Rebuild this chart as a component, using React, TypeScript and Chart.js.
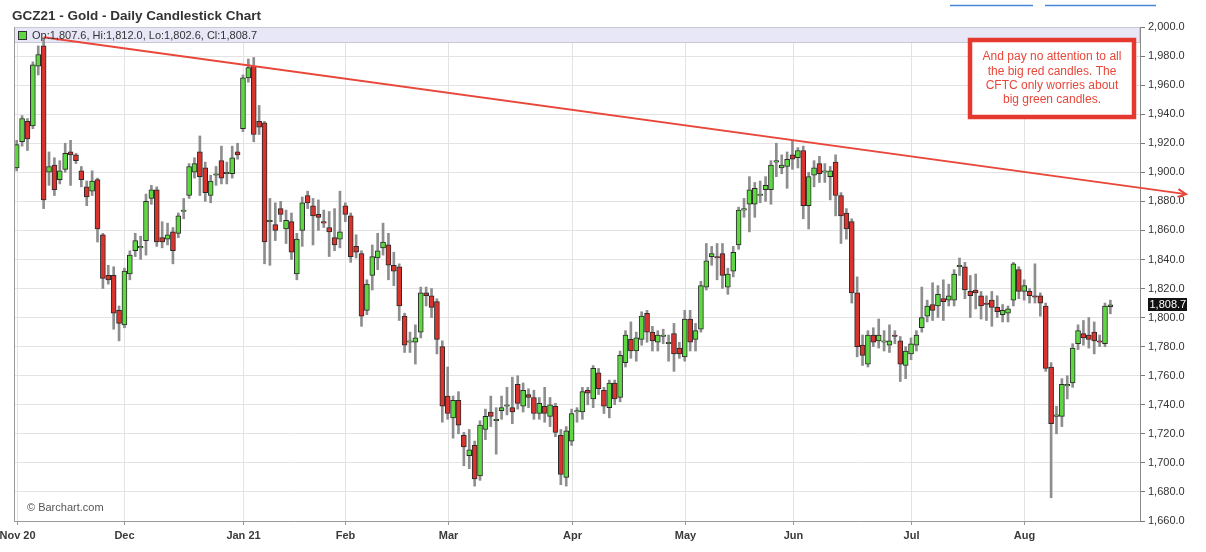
import React, { useEffect, useRef } from 'react';
import { Chart, registerables } from 'chart.js';

Chart.register(...registerables);

const FONT = '"Liberation Sans", Arial, Helvetica, sans-serif';

const chartTitle = 'GCZ21 - Gold - Daily Candlestick Chart';
const copyright = '\u00A9 Barchart.com';
const noteLines = [
  'And pay no attention to all',
  'the big red candles. The',
  'CFTC only worries about',
  'big green candles.',
];

// x axis month labels and the session index where each month starts
const monthLabels = ['Nov 20', 'Dec', 'Jan 21', 'Feb', 'Mar', 'Apr', 'May', 'Jun', 'Jul', 'Aug'];
const monthStarts = [0, 20, 42, 61, 80, 103, 124, 144, 166, 187];

// y axis
const yMin = 1660;
const yMax = 2000;
const yStep = 20;

// daily OHLC (trading sessions, Nov 2020 .. Aug 2021)
const opens = [
  1903, 1921, 1935, 1932, 1973, 1987, 1900, 1905, 1895, 1902,
  1914, 1912, 1901, 1890, 1887, 1895, 1857, 1829, 1829, 1805,
  1795, 1830, 1846, 1848, 1853, 1882, 1888, 1855, 1854, 1859,
  1858, 1873, 1884, 1900, 1914, 1903, 1884, 1898, 1908, 1899,
  1899, 1914, 1930, 1965, 1973, 1935, 1934, 1866, 1864, 1875,
  1861, 1866, 1830, 1860, 1884, 1877, 1871, 1866, 1862, 1855,
  1854, 1877, 1870, 1849, 1844, 1805, 1829, 1841, 1848, 1850,
  1836, 1835, 1801, 1783, 1783, 1790, 1817, 1815, 1811, 1780,
  1746, 1731, 1743, 1719, 1705, 1712, 1691, 1723, 1735, 1729,
  1736, 1739, 1738, 1754, 1739, 1747, 1745, 1734, 1739, 1732,
  1739, 1719, 1690, 1715, 1735, 1735, 1750, 1744, 1762, 1750,
  1738, 1755, 1745, 1769, 1785, 1777, 1785, 1803, 1790, 1783,
  1787, 1782, 1789, 1779, 1773, 1799, 1785, 1792, 1821, 1842,
  1842, 1844, 1821, 1832, 1850, 1874, 1878, 1878, 1884, 1888,
  1888, 1907, 1903, 1904, 1912, 1910, 1915, 1877, 1898, 1906,
  1900, 1897, 1907, 1884, 1872, 1866, 1817, 1781, 1768, 1788,
  1784, 1783, 1781, 1788, 1784, 1767, 1775, 1781, 1793, 1801,
  1809, 1808, 1813, 1812, 1812, 1835, 1835, 1818, 1819, 1815,
  1810, 1812, 1807, 1802, 1803, 1812, 1833, 1818, 1818, 1815,
  1815, 1808, 1766, 1732, 1732, 1753, 1755, 1782, 1789, 1788,
  1790, 1784, 1782, 1807.6,
];
const highs = [
  1922, 1939, 1937, 1976, 1987, 1992, 1914, 1910, 1908, 1920,
  1922, 1913, 1904, 1894, 1901, 1896, 1858, 1836, 1835, 1808,
  1834, 1846, 1858, 1856, 1885, 1891, 1890, 1866, 1865, 1862,
  1872, 1882, 1906, 1910, 1925, 1907, 1898, 1904, 1918, 1907,
  1918, 1920, 1967, 1978, 1979, 1946, 1935, 1882, 1879, 1880,
  1874, 1872, 1858, 1883, 1887, 1882, 1881, 1874, 1873, 1875,
  1887, 1879, 1872, 1857, 1846, 1826, 1850, 1858, 1865, 1858,
  1845, 1837, 1803, 1790, 1795, 1821, 1821, 1820, 1813, 1784,
  1766, 1746, 1749, 1721, 1723, 1715, 1729, 1737, 1746, 1738,
  1746, 1752, 1759, 1760, 1755, 1751, 1750, 1745, 1752, 1745,
  1741, 1723, 1725, 1737, 1738, 1752, 1752, 1767, 1765, 1752,
  1757, 1757, 1777, 1791, 1797, 1790, 1804, 1805, 1794, 1791,
  1792, 1788, 1796, 1783, 1805, 1805, 1796, 1825, 1851, 1849,
  1851, 1851, 1834, 1849, 1876, 1882, 1897, 1893, 1894, 1897,
  1908, 1920, 1912, 1914, 1922, 1917, 1918, 1900, 1908, 1911,
  1906, 1904, 1912, 1886, 1875, 1868, 1828, 1788, 1791, 1793,
  1799, 1791, 1795, 1791, 1787, 1780, 1786, 1791, 1821, 1812,
  1824, 1822, 1826, 1823, 1833, 1841, 1838, 1829, 1830, 1818,
  1815, 1818, 1815, 1809, 1808, 1838, 1835, 1826, 1820, 1837,
  1817, 1810, 1769, 1739, 1758, 1760, 1782, 1795, 1798, 1800,
  1797, 1788, 1810, 1812.0,
];
const lows = [
  1901, 1918, 1915, 1930, 1967, 1875, 1891, 1884, 1892, 1900,
  1891, 1906, 1890, 1877, 1884, 1852, 1820, 1823, 1792, 1784,
  1793, 1826, 1842, 1840, 1843, 1878, 1849, 1848, 1850, 1837,
  1855, 1868, 1882, 1896, 1884, 1880, 1879, 1891, 1892, 1892,
  1896, 1909, 1928, 1962, 1921, 1926, 1837, 1836, 1853, 1866,
  1851, 1840, 1826, 1849, 1875, 1850, 1860, 1862, 1842, 1846,
  1848, 1866, 1838, 1841, 1794, 1802, 1819, 1833, 1843, 1826,
  1822, 1798, 1776, 1776, 1768, 1786, 1808, 1800, 1775, 1728,
  1730, 1717, 1720, 1698, 1696, 1684, 1688, 1716, 1725, 1706,
  1730, 1733, 1727, 1737, 1735, 1738, 1730, 1730, 1728, 1725,
  1718, 1685, 1684, 1712, 1728, 1730, 1740, 1738, 1747, 1734,
  1731, 1740, 1742, 1766, 1772, 1770, 1781, 1783, 1777, 1777,
  1782, 1770, 1763, 1772, 1770, 1777, 1777, 1790, 1819, 1836,
  1826, 1820, 1816, 1828, 1847, 1869, 1859, 1869, 1879, 1880,
  1878, 1897, 1899, 1889, 1902, 1903, 1868, 1861, 1890, 1893,
  1893, 1881, 1870, 1851, 1854, 1810, 1773, 1767, 1766, 1780,
  1779, 1777, 1776, 1782, 1756, 1758, 1771, 1777, 1790, 1797,
  1798, 1800, 1798, 1808, 1808, 1829, 1813, 1800, 1806, 1799,
  1798, 1794, 1800, 1797, 1797, 1808, 1813, 1812, 1810, 1810,
  1801, 1763, 1676, 1720, 1725, 1744, 1752, 1778, 1781, 1779,
  1775, 1780, 1780, 1802.6,
];
const closes = [
  1919, 1937, 1923, 1974, 1981, 1881, 1904, 1888, 1901, 1913,
  1912, 1908, 1895, 1883, 1894, 1861, 1827, 1826, 1803, 1796,
  1832, 1843, 1853, 1849, 1880, 1888, 1852, 1852, 1857, 1846,
  1870, 1874, 1904, 1906, 1897, 1886, 1894, 1899, 1896, 1900,
  1910, 1912, 1965, 1972, 1926, 1931, 1852, 1867, 1860, 1871,
  1867, 1845, 1854, 1879, 1879, 1870, 1869, 1865, 1859, 1850,
  1859, 1871, 1842, 1845, 1801, 1823, 1842, 1846, 1852, 1836,
  1832, 1808, 1781, 1784, 1786, 1817, 1815, 1807, 1785, 1739,
  1734, 1743, 1726, 1711, 1709, 1689, 1726, 1732, 1732, 1730,
  1738, 1740, 1735, 1741, 1750, 1745, 1734, 1741, 1734, 1740,
  1721, 1692, 1722, 1734, 1736, 1749, 1748, 1765, 1751, 1739,
  1755, 1744, 1774, 1788, 1777, 1786, 1801, 1790, 1784, 1788,
  1788, 1783, 1775, 1775, 1799, 1783, 1791, 1822, 1839, 1844,
  1841, 1829, 1830, 1845, 1874, 1875, 1888, 1889, 1885, 1891,
  1905, 1908, 1905, 1909, 1909, 1915, 1877, 1897, 1903, 1899,
  1901, 1901, 1884, 1870, 1861, 1817, 1780, 1774, 1788, 1783,
  1788, 1784, 1784, 1787, 1768, 1777, 1782, 1788, 1800, 1808,
  1805, 1816, 1811, 1815, 1830, 1836, 1819, 1815, 1817, 1808,
  1809, 1807, 1804, 1805, 1806, 1837, 1818, 1822, 1815, 1814,
  1810, 1765, 1727, 1733, 1754, 1754, 1779, 1791, 1786, 1785,
  1784, 1783, 1808, 1808.7,
];

// trend line anchors (session index, price)
const trendStart = { i: 5, v: 1993 };
const trendEnd = { i: 164, v: 1912 };

const padSlots = 5;
const categories = [
  ...opens.map((_, i) => `S${i + 1}`),
  ...Array.from({ length: padSlots }, (_, i) => `pad${i + 1}`),
];

const GREEN = '#5ed742';
const RED = '#d8332d';
const NOTE_RED = '#e8473a';

const fmt = (v: number) =>
  Number(v).toLocaleString('en-US', { minimumFractionDigits: 1, maximumFractionDigits: 1 });

const decorPlugin = {
  id: 'decor',
  beforeDatasetsDraw(chart: any) {
    const { ctx, chartArea: a, scales } = chart;
    const x = scales.x;
    ctx.save();
    ctx.strokeStyle = '#e3e3e3';
    ctx.lineWidth = 1;
    monthStarts.forEach((i) => {
      const px = Math.round(x.getPixelForValue(i)) + 0.5;
      ctx.beginPath();
      ctx.moveTo(px, a.top);
      ctx.lineTo(px, a.bottom);
      ctx.stroke();
    });
    // quote band
    ctx.fillStyle = '#e7e7f8';
    ctx.fillRect(a.left, a.top, a.right - a.left, 15);
    ctx.strokeStyle = '#c9c9d6';
    ctx.strokeRect(a.left + 0.5, a.top + 0.5, a.right - a.left - 1, 15);
    ctx.restore();
  },
  afterDraw(chart: any) {
    const { ctx, chartArea: a, scales } = chart;
    const x = scales.x;
    const y = scales.y;
    ctx.save();

    // left frame
    ctx.strokeStyle = '#9a9a9a';
    ctx.lineWidth = 1;
    ctx.beginPath();
    ctx.moveTo(a.left + 0.5, a.top);
    ctx.lineTo(a.left + 0.5, a.bottom);
    ctx.stroke();

    // x tick marks + labels
    ctx.fillStyle = '#3a3a3a';
    ctx.font = `bold 11px ${FONT}`;
    ctx.textAlign = 'center';
    ctx.textBaseline = 'alphabetic';
    monthStarts.forEach((i, k) => {
      const px = Math.round(x.getPixelForValue(i)) + 0.5;
      ctx.strokeStyle = '#999';
      ctx.beginPath();
      ctx.moveTo(px, a.bottom);
      ctx.lineTo(px, a.bottom + 4);
      ctx.stroke();
      ctx.fillText(monthLabels[k], px, a.bottom + 18);
    });

    // title
    ctx.textAlign = 'left';
    ctx.textBaseline = 'middle';
    ctx.fillStyle = '#333';
    ctx.font = `bold 13.5px ${FONT}`;
    ctx.fillText(chartTitle, 12, 16);

    // top-right links (underlines)
    ctx.strokeStyle = '#4a86d8';
    ctx.lineWidth = 1.5;
    ctx.beginPath();
    ctx.moveTo(950, 5.5);
    ctx.lineTo(1033, 5.5);
    ctx.moveTo(1045, 5.5);
    ctx.lineTo(1156, 5.5);
    ctx.stroke();

    // copyright
    ctx.fillStyle = '#555';
    ctx.font = `11px ${FONT}`;
    ctx.fillText(copyright, a.left + 13, a.bottom - 13);

    // trend line with arrow
    const x1 = x.getPixelForValue(trendStart.i);
    const y1 = y.getPixelForValue(trendStart.v);
    const x2 = x.getPixelForValue(trendEnd.i);
    const y2 = y.getPixelForValue(trendEnd.v);
    const slope = (y2 - y1) / (x2 - x1);
    const xe = a.right + 46;
    const ye = y1 + slope * (xe - x1);
    ctx.strokeStyle = NOTE_RED;
    ctx.lineWidth = 2;
    ctx.beginPath();
    ctx.moveTo(x1, y1);
    ctx.lineTo(xe, ye);
    ctx.stroke();
    const ang = Math.atan2(ye - y1, xe - x1);
    const al = 9;
    ctx.beginPath();
    ctx.moveTo(xe - al * Math.cos(ang - 0.45), ye - al * Math.sin(ang - 0.45));
    ctx.lineTo(xe, ye);
    ctx.lineTo(xe - al * Math.cos(ang + 0.45), ye - al * Math.sin(ang + 0.45));
    ctx.stroke();

    // quote legend
    const n = opens.length - 1;
    ctx.fillStyle = GREEN;
    ctx.fillRect(a.left + 5, a.top + 5, 7, 7);
    ctx.strokeStyle = '#333';
    ctx.lineWidth = 1;
    ctx.strokeRect(a.left + 4.5, a.top + 4.5, 8, 8);
    ctx.fillStyle = '#333';
    ctx.font = `11px ${FONT}`;
    ctx.textBaseline = 'middle';
    ctx.fillText(
      `Op:${fmt(opens[n])}, Hi:${fmt(highs[n])}, Lo:${fmt(lows[n])}, Cl:${fmt(closes[n])}`,
      a.left + 18,
      a.top + 8.5
    );

    // note box
    const bx = a.right - 170;
    const by = a.top + 13;
    const bw = 164;
    const bh = 77;
    ctx.fillStyle = '#fff';
    ctx.fillRect(bx, by, bw, bh);
    ctx.strokeStyle = '#e5392f';
    ctx.lineWidth = 4.5;
    ctx.strokeRect(bx, by, bw, bh);
    ctx.fillStyle = NOTE_RED;
    ctx.font = `12px ${FONT}`;
    ctx.textAlign = 'center';
    noteLines.forEach((t, k) => {
      ctx.fillText(t, bx + bw / 2, by + 17 + k * 14.3);
    });

    // last price label
    const py = y.getPixelForValue(closes[n]);
    ctx.fillStyle = '#111';
    ctx.fillRect(a.right + 8, Math.round(py) - 7, 39, 13);
    ctx.fillStyle = '#fff';
    ctx.font = `11px ${FONT}`;
    ctx.textAlign = 'left';
    ctx.fillText(fmt(closes[n]), a.right + 9.5, Math.round(py) - 0.5);

    ctx.restore();
  },
};

export default function App() {
  const ref = useRef<HTMLCanvasElement | null>(null);

  useEffect(() => {
    document.body.style.margin = '0';
    const canvas = ref.current;
    if (!canvas) return;
    const bodyColors = opens.map((o, i) => (closes[i] >= o ? GREEN : RED));
    const chart = new Chart(canvas, {
      type: 'bar',
      data: {
        labels: categories,
        datasets: [
          {
            label: 'range',
            data: lows.map((l, i) => [l, highs[i]]) as any,
            backgroundColor: '#8e8e8e',
            borderWidth: 0,
            barThickness: 2,
            grouped: false,
            order: 2,
          } as any,
          {
            label: 'body',
            data: opens.map((o, i) => [o, closes[i]]) as any,
            backgroundColor: bodyColors,
            borderColor: '#2b2b2b',
            borderWidth: 1,
            borderSkipped: false,
            barThickness: 5,
            grouped: false,
            order: 1,
          } as any,
        ],
      },
      options: {
        responsive: false,
        animation: false,
        events: [],
        layout: { padding: { top: 27, left: 14, right: 0, bottom: 0 } },
        plugins: {
          legend: { display: false },
          tooltip: { enabled: false },
          title: { display: false },
        },
        scales: {
          x: {
            type: 'category',
            offset: true,
            grid: { display: false },
            ticks: { display: false },
            border: { display: true, color: '#9a9a9a' },
            afterFit: (s: any) => {
              s.height = 31;
            },
          },
          y: {
            position: 'right',
            min: yMin,
            max: yMax,
            ticks: {
              stepSize: yStep,
              callback: (v: any) => fmt(v),
              color: '#333',
              font: { family: FONT, size: 11 },
              padding: 3,
            },
            grid: { color: '#e3e3e3', tickColor: '#777', tickLength: 5 },
            border: { color: '#8a8a8a' },
            afterFit: (s: any) => {
              s.width = 66;
            },
          },
        },
      } as any,
      plugins: [decorPlugin],
    });
    return () => chart.destroy();
  }, []);

  return (
    <div style={{ width: 1206, height: 552, background: '#fff' }}>
      <canvas ref={ref} width={1206} height={552} style={{ display: 'block' }} />
    </div>
  );
}
